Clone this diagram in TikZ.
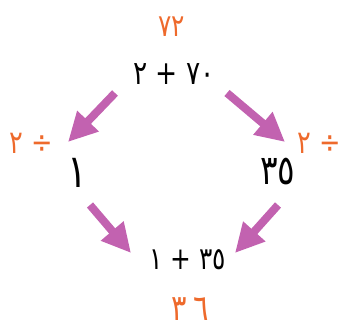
\documentclass[tikz,border=0pt]{standalone}
\usepackage{fontspec}
\TeXXeTstate=1
\newfontfamily\arabicfont[Script=Arabic,FakeStretch=0.8]{DejaVu Sans}
\usetikzlibrary{arrows.meta}
\definecolor{arrcol}{HTML}{C262B0}
\definecolor{orgcol}{HTML}{EE6A2C}
\newcommand{\fsz}[1]{\arabicfont\fontsize{#1}{#1}\selectfont}
\begin{document}
\begin{tikzpicture}[x=1pt,y=-1pt,
  txt/.style={inner sep=0pt},
  res/.style={txt,text=orgcol},
  fat/.style={draw=arrcol,line width=8pt,-{Triangle[length=29pt,width=28pt]}}]
\clip (0,0) rectangle (341,336);
\node[res,font=\fsz{31}] (n72) at (172,27) {\beginR ٧٢\endR};
\node[txt,font=\fsz{33}] (top) at (174,74) {\beginR ٧٠ + ٢\endR};
\node[res,font=\fsz{32}] (ldiv) at (31,143) {\beginR ÷ ٢\endR};
\node[res,font=\fsz{32},anchor=east] (rdiv) at (341,143) {\beginR ÷ ٢\endR};
\node[txt,font=\fsz{46}] (one) at (77,173) {\beginR ١\endR};
\node[txt,font=\fsz{41}] (tf) at (278,172) {\beginR ٣٥\endR};
\node[txt,font=\fsz{31}] (bot) at (188,260) {\beginR ٣٥ + ١\endR};
\node[res,font=\fsz{36}] (n36) at (190,309) {\beginR\beginL ٣\kern7pt ٦\endL\endR};
\coordinate (a1s) at (115,93);
\coordinate (a1e) at (68,142);
\coordinate (a2s) at (227,93);
\coordinate (a2e) at (285,142);
\coordinate (a3s) at (90,205);
\coordinate (a3e) at (131,253);
\coordinate (a4s) at (278,205);
\coordinate (a4e) at (235,253);
\draw[fat] (a1s) -- (a1e);
\draw[fat] (a2s) -- (a2e);
\draw[fat] (a3s) -- (a3e);
\draw[fat] (a4s) -- (a4e);
\end{tikzpicture}
\end{document}
